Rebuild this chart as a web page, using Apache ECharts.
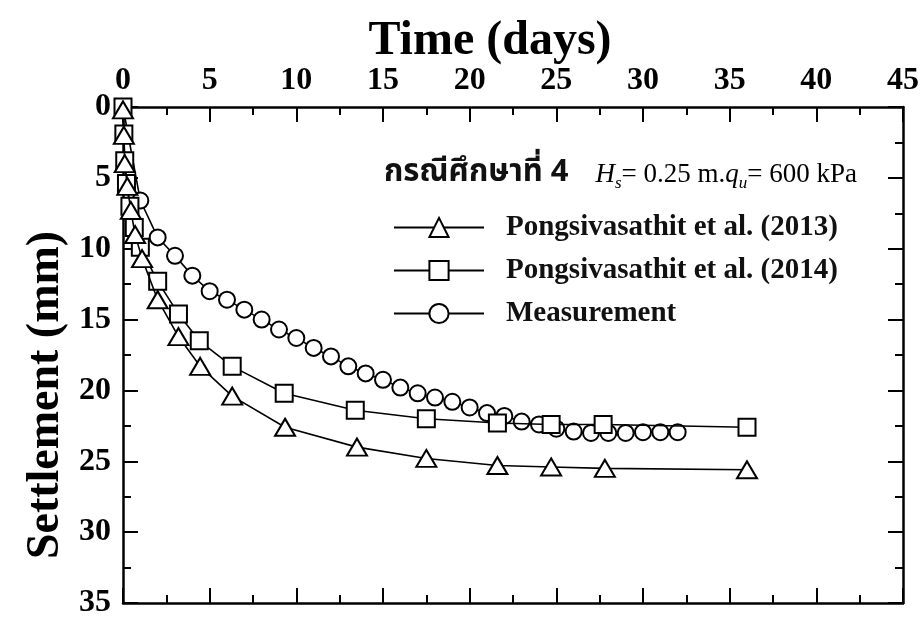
<!DOCTYPE html>
<html>
<head>
<meta charset="utf-8">
<script src="https://cdn.jsdelivr.net/npm/echarts@6/dist/echarts.min.js"></script>
<style>
html, body { margin: 0; padding: 0; background: #fff; }
#chart { width: 923px; height: 619px; }
</style>
</head>
<body>
<div id="chart"></div>
<script>
// Settlement–time curves, case study 4
const model2013Days = [0, 0.05, 0.1, 0.25, 0.45, 0.7, 1.1, 2.0, 3.2, 4.45, 6.3, 9.35, 13.5, 17.5, 21.6, 24.7, 27.8, 36.0];
const model2013Settlement = [0.2, 2.0, 4.0, 5.6, 7.3, 9.0, 10.7, 13.6, 16.2, 18.3, 20.4, 22.6, 24.0, 24.8, 25.3, 25.4, 25.5, 25.6];

const model2014Days = [0, 0.05, 0.1, 0.2, 0.4, 0.65, 1.0, 2.0, 3.2, 4.4, 6.3, 9.3, 13.4, 17.5, 21.6, 24.7, 27.7, 36.0];
const model2014Settlement = [0, 1.9, 3.8, 5.4, 7.0, 8.5, 9.9, 12.3, 14.6, 16.5, 18.3, 20.2, 21.4, 22.0, 22.3, 22.4, 22.4, 22.6];

const measuredDays = [0, 1, 2, 3, 4, 5, 6, 7, 8, 9, 10, 11, 12, 13, 14, 15, 16, 17, 18, 19, 20, 21, 22, 23, 24, 25, 26, 27, 28, 29, 30, 31, 32];
const measuredSettlement = [0, 6.6, 9.2, 10.5, 11.9, 13.0, 13.6, 14.3, 15.0, 15.7, 16.3, 17.0, 17.6, 18.3, 18.8, 19.25, 19.8, 20.2, 20.5, 20.8, 21.2, 21.6, 21.8, 22.2, 22.4, 22.7, 22.9, 23.0, 23.0, 23.0, 22.95, 22.95, 22.95];

const seriesNames = ['Pongsivasathit et al. (2013)', 'Pongsivasathit et al. (2014)', 'Measurement'];

const xRange = { min: 0, max: 45, interval: 5 };
const yRange = { min: 0, max: 35, interval: 5 };

const SERIF = '"Liberation Serif", "Times New Roman", serif';
const THAI = '"Noto Sans Thai", "Noto Serif Thai", "Loma", "Garuda", "Tlwg Typo", "Noto Sans", sans-serif';

function pairs(xs, ys) {
  return xs.map((x, i) => [x, ys[i]]);
}

const chart = echarts.init(document.getElementById('chart'), null, { renderer: 'canvas' });

const frameLine = { show: true, onZero: false, lineStyle: { color: '#000', width: 2.5 } };
const majorTick = { show: true, inside: true, length: 15, lineStyle: { color: '#000', width: 2 } };
const minorTick = { show: true, splitNumber: 2, length: 8, lineStyle: { color: '#000', width: 2 } };

function lineSeries(name, data, symbol, size, z) {
  return {
    name: name,
    type: 'line',
    data: data,
    symbol: symbol,
    symbolSize: size,
    showAllSymbol: true,
    z: z,
    lineStyle: { color: '#000', width: 1.6 },
    itemStyle: { color: '#fff', borderColor: '#000', borderWidth: 2 },
    emphasis: { disabled: true },
    animation: false
  };
}

chart.setOption({
  backgroundColor: '#fff',
  animation: false,
  grid: { left: 123, right: 20, top: 107, bottom: 14, containLabel: false },
  xAxis: [
    {
      type: 'value', position: 'top', ...xRange,
      axisLine: frameLine, axisTick: majorTick, minorTick: minorTick,
      splitLine: { show: false },
      axisLabel: { color: '#000', fontFamily: SERIF, fontWeight: 'bold', fontSize: 32, margin: 10 }
    },
    {
      type: 'value', position: 'bottom', ...xRange,
      axisLine: frameLine, axisTick: majorTick, minorTick: minorTick,
      splitLine: { show: false }, axisLabel: { show: false }
    }
  ],
  yAxis: [
    {
      type: 'value', position: 'left', inverse: true, ...yRange,
      axisLine: frameLine, axisTick: majorTick, minorTick: minorTick,
      splitLine: { show: false },
      axisLabel: { color: '#000', fontFamily: SERIF, fontWeight: 'bold', fontSize: 32, margin: 12 }
    },
    {
      type: 'value', position: 'right', inverse: true, ...yRange,
      axisLine: frameLine, axisTick: majorTick, minorTick: minorTick,
      splitLine: { show: false }, axisLabel: { show: false }
    }
  ],
  legend: {
    orient: 'vertical',
    left: 388,
    top: 208,
    itemWidth: 90,
    itemHeight: 24,
    itemGap: 14,
    selectedMode: false,
    data: seriesNames,
    textStyle: { color: '#111', fontFamily: SERIF, fontWeight: 'bold', fontSize: 29, lineHeight: 29, padding: [0, 0, 0, 17] }
  },
  graphic: [
    {
      type: 'text', x: 490, y: 42,
      style: { text: 'Time (days)', font: 'bold 48px ' + SERIF, fill: '#000', align: 'center', verticalAlign: 'middle' }
    },
    {
      type: 'text', x: 46, y: 395, rotation: Math.PI / 2,
      style: { text: 'Settlement (mm)', font: 'bold 46px ' + SERIF, fill: '#000', align: 'center', verticalAlign: 'middle' }
    },
    {
      type: 'text', x: 384, y: 175,
      style: {
        text: '{th|กรณีศึกษาที่ 4}{gap|}{it|H}{sub|s}{n|= 0.25 m.}{it|q}{sub|u}{n|= 600 kPa}',
        fill: '#000', align: 'left', verticalAlign: 'middle',
        rich: {
          th: { fontFamily: THAI, fontWeight: 'bold', fontSize: 31, lineHeight: 34, fill: '#111' },
          gap: { width: 27, lineHeight: 34 },
          it: { fontFamily: SERIF, fontStyle: 'italic', fontSize: 27, lineHeight: 34 },
          n: { fontFamily: SERIF, fontSize: 27, lineHeight: 34 },
          sub: { fontFamily: SERIF, fontStyle: 'italic', fontSize: 17, lineHeight: 34, verticalAlign: 'bottom' }
        }
      }
    }
  ],
  series: [
    lineSeries(seriesNames[0], pairs(model2013Days, model2013Settlement), 'triangle', [20, 17], 5),
    lineSeries(seriesNames[1], pairs(model2014Days, model2014Settlement), 'rect', 17, 4),
    lineSeries(seriesNames[2], pairs(measuredDays, measuredSettlement), 'circle', 16, 3)
  ]
});
</script>
</body>
</html>
